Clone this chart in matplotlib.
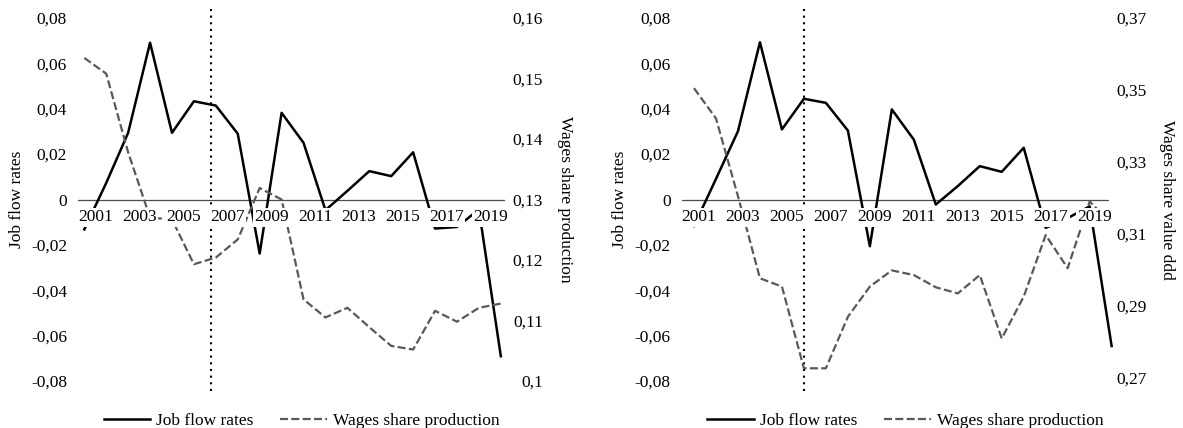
import matplotlib
matplotlib.use('Agg')
import matplotlib.pyplot as plt

plt.rcParams['font.family'] = ['Liberation Serif', 'DejaVu Serif']
FS = 12.5

# ---------------- data ----------------
years = list(range(2001, 2021))
label_years = list(range(2001, 2020, 2))
x_labels = [str(y) for y in label_years]

job_flow_left = [-0.0132, 0.0073, 0.0294, 0.0691, 0.0294, 0.0433, 0.0414, 0.0290,
                 -0.0238, 0.0382, 0.0250, -0.0047, 0.0038, 0.0125, 0.0103, 0.0208,
                 -0.0128, -0.0121, -0.0044, -0.0691]
wages_production = [0.1534, 0.1508, 0.1378, 0.1270, 0.1267, 0.1193, 0.1204, 0.1234,
                    0.1319, 0.1300, 0.1135, 0.1105, 0.1121, 0.1089, 0.1058, 0.1052,
                    0.1116, 0.1098, 0.1121, 0.1128]

job_flow_right = [-0.0117, 0.0091, 0.0301, 0.0693, 0.0309, 0.0444, 0.0426, 0.0304,
                  -0.0206, 0.0397, 0.0264, -0.0022, 0.0059, 0.0147, 0.0122, 0.0228,
                  -0.0125, -0.0082, -0.0030, -0.0646]
wages_value_ddd = [0.3505, 0.3421, 0.3205, 0.2977, 0.2954, 0.2727, 0.2727, 0.2870,
                   0.2954, 0.2999, 0.2986, 0.2952, 0.2935, 0.2986, 0.2810, 0.2926,
                   0.3097, 0.3005, 0.3190, 0.3130]

left_ticks = [-0.08, -0.06, -0.04, -0.02, 0, 0.02, 0.04, 0.06, 0.08]
left_tick_labels = ['-0,08', '-0,06', '-0,04', '-0,02', '0', '0,02', '0,04', '0,06', '0,08']

prod_ticks = [0.10, 0.11, 0.12, 0.13, 0.14, 0.15, 0.16]
prod_tick_labels = ['0,1', '0,11', '0,12', '0,13', '0,14', '0,15', '0,16']

ddd_ticks = [0.27, 0.29, 0.31, 0.33, 0.35, 0.37]
ddd_tick_labels = ['0,27', '0,29', '0,31', '0,33', '0,35', '0,37']

marker_left = 2006.77
marker_right = 2006.0

series_labels = ['Job flow rates', 'Wages share production']

# ---------------- figure ----------------
fig = plt.figure(figsize=(11.83, 4.28), dpi=100)
W, H = 1183, 428


def make_axes(x0, x1):
    return fig.add_axes([x0 / W, (H - 381) / H, (x1 - x0) / W, 363 / H])


def panel(ax, jf, ws, ylim2, ticks2, labels2, ylabel2, xlim, lbl_off, marker,
          ylab_x, ylab2_x):
    ax2 = ax.twinx()
    ax.set_xlim(*xlim)
    ax.set_ylim(-0.08, 0.08)
    ax2.set_ylim(*ylim2)

    ax.axhline(0, color='#4d4d4d', lw=0.9, zorder=1)
    ax.plot(years, jf, color='black', lw=1.8, clip_on=False, zorder=3,
            label=series_labels[0])
    ax2.plot(years, ws, color='#595959', lw=1.6, ls=(0, (3.6, 1.5)),
             clip_on=False, zorder=2, label=series_labels[1])
    ax.axvline(marker, ymin=-0.027, ymax=1.025, color='black', lw=1.5,
               ls=(0, (1, 2.2)), clip_on=False, zorder=2)

    for s in list(ax.spines.values()) + list(ax2.spines.values()):
        s.set_visible(False)

    ax.set_yticks(left_ticks, left_tick_labels)
    ax.tick_params(axis='y', length=0, pad=7.9, labelsize=FS)
    ax.tick_params(axis='x', length=0, labelbottom=False)

    ax2.set_yticks(ticks2, labels2)
    ax2.tick_params(axis='y', length=0, pad=27.4, labelsize=FS)
    for t in ax2.get_yticklabels():
        t.set_horizontalalignment('right')

    ax2.xaxis.set_visible(True)
    ax2.set_xticks([y + lbl_off for y in label_years], x_labels)
    ax2.spines['bottom'].set_position(('axes', 0.5))
    ax2.set_axisbelow(False)
    ax2.tick_params(axis='x', length=0, pad=7.0, labelsize=FS, labelbottom=True)
    for t in ax2.get_xticklabels():
        t.set_bbox(dict(facecolor='white', edgecolor='none', pad=1))
    ax.set_xlim(*xlim)

    ax.set_ylabel('Job flow rates', fontsize=FS, va='center')
    ax.yaxis.set_label_coords(ylab_x, 0.5)
    ax2.set_ylabel(ylabel2, fontsize=FS, rotation=-90, va='center')
    ax2.yaxis.set_label_coords(ylab2_x, 0.5)

    h1, l1 = ax.get_legend_handles_labels()
    h2, l2 = ax2.get_legend_handles_labels()
    ax2.legend(h1 + h2, l1 + l2, loc='center', bbox_to_anchor=(0.5 + 10 / 427, -0.110),
               ncol=2, frameon=False, fontsize=FS, handlelength=2.7,
               handletextpad=0.35, columnspacing=1.5, borderaxespad=0)
    return ax2


axL = make_axes(78, 505)
panel(axL, job_flow_left, wages_production, (0.10, 0.16), prod_ticks, prod_tick_labels,
      'Wages share production', (2000.713, 2020.19), 0.53, marker_left, -0.1429, 1.1405)

axR = make_axes(681.7, 1109)
panel(axR, job_flow_right, wages_value_ddd, (0.26917, 0.37), ddd_ticks, ddd_tick_labels,
      'Wages share value ddd', (2000.44, 2019.88), 0.23, marker_right, -0.1444, 1.1357)

fig.savefig('out.png', dpi=100, facecolor='white')
